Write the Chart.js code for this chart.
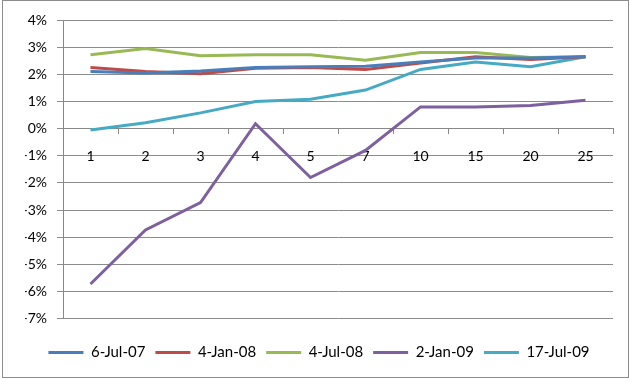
<!DOCTYPE html>
<html>
<head>
<meta charset="utf-8">
<script src="https://cdn.jsdelivr.net/npm/chart.js@4/dist/chart.umd.min.js"></script>
<style>
html,body{margin:0;padding:0;background:#fff;}
#wrap{width:630px;height:379px;position:relative;}
</style>
</head>
<body>
<div id="wrap"><canvas id="c" width="630" height="379"></canvas></div>
<script>
const categories = ['1','2','3','4','5','7','10','15','20','25'];
const seriesNames = ['6-Jul-07','4-Jan-08','4-Jul-08','2-Jan-09','17-Jul-09'];
const jul07 = [2.10, 2.05, 2.12, 2.25, 2.28, 2.30, 2.45, 2.60, 2.60, 2.65];
const jan08 = [2.25, 2.10, 2.02, 2.22, 2.25, 2.18, 2.42, 2.65, 2.55, 2.65];
const jul08 = [2.72, 2.95, 2.68, 2.72, 2.72, 2.52, 2.80, 2.80, 2.62, 2.65];
const jan09 = [-5.72, -3.73, -2.72, 0.18, -1.80, -0.80, 0.80, 0.80, 0.85, 1.05];
const jul09 = [-0.05, 0.22, 0.58, 1.00, 1.08, 1.42, 2.18, 2.45, 2.28, 2.65];
const colors = ['#4A7EBB','#BE4B48','#98B954','#7D60A0','#46AAC5'];
const allSeries = [jul07, jan08, jul08, jan09, jul09];

const frame = {
  id: 'frame',
  afterDraw(chart){
    const ctx = chart.ctx;
    ctx.save();
    ctx.strokeStyle = '#8c8c8c';
    ctx.lineWidth = 1;
    ctx.strokeRect(2.5, 0.5, 626, 377);
    ctx.restore();
  }
};

new Chart(document.getElementById('c'), {
  type: 'line',
  data: {
    labels: categories,
    datasets: allSeries.map((d, i) => ({
      label: seriesNames[i],
      data: d,
      borderColor: colors[i],
      backgroundColor: colors[i],
      borderWidth: 3,
      pointRadius: 0,
      tension: 0,
      fill: false
    }))
  },
  options: {
    responsive: false,
    animation: false,
    plugins: {
      tooltip: {enabled: false},
      legend: {
        position: 'bottom',
        title: {display: true, text: '', font: {size: 1}, padding: 7.5},
        labels: {
          font: {family: 'Lato, "Liberation Sans", sans-serif', size: 15},
          color: '#000',
          boxWidth: 35,
          boxHeight: 3,
          padding: 10,
          generateLabels(chart){
            return chart.data.datasets.map((ds, i) => ({
              text: ds.label,
              fillStyle: ds.borderColor,
              strokeStyle: ds.borderColor,
              lineWidth: 0,
              datasetIndex: i,
              fontColor: '#000'
            }));
          }
        }
      }
    },
    layout: {padding: {left: 25, right: 17, top: 20, bottom: 9}},
    scales: {
      x: {
        type: 'category',
        position: {y: 0},
        offset: true,
        grid: {display: true, drawOnChartArea: false, drawTicks: true, tickLength: 5, offset: true, color: '#888'},
        border: {display: true, color: '#888', width: 1},
        ticks: {color: '#000', padding: 14, font: {family: 'Lato, "Liberation Sans", sans-serif', size: 14}, maxRotation: 0}
      },
      y: {
        min: -7,
        max: 4,
        afterFit(scale){ scale.width = 38; },
        grid: {color: '#8c8c8c', tickLength: 6, drawTicks: true},
        border: {display: true, color: '#888'},
        ticks: {
          stepSize: 1,
          color: '#000',
          padding: 10,
          font: {family: 'Lato, "Liberation Sans", sans-serif', size: 14},
          callback: v => v + '%'
        }
      }
    }
  },
  plugins: [frame]
});
</script>
</body>
</html>
